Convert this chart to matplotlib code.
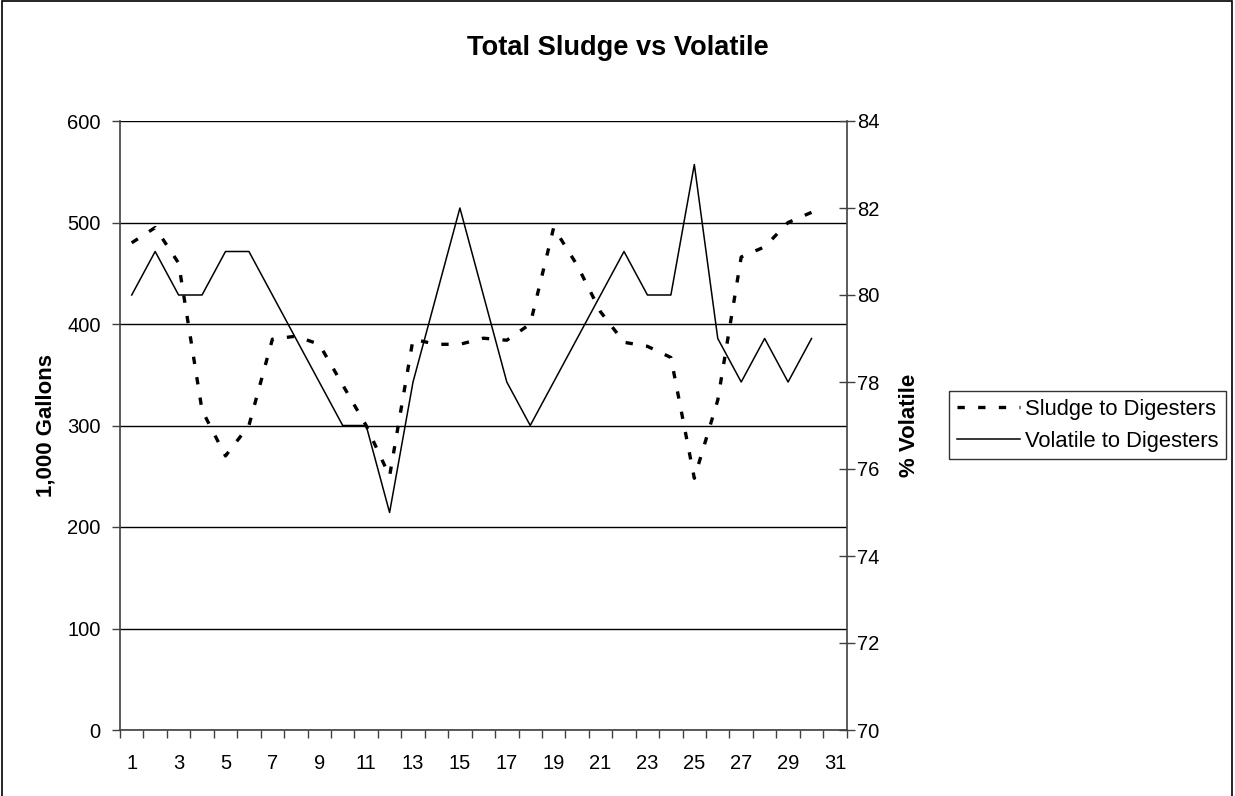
import numpy as np
import matplotlib
matplotlib.use("Agg")
import matplotlib.pyplot as plt
from matplotlib.patches import Rectangle

plt.rcParams['font.family'] = ['Liberation Sans', 'DejaVu Sans']

# daily values
days = list(range(1, 31))
sludge = [480, 495, 460, 315, 270, 300, 385, 388, 380, 340,
          300, 250, 385, 380, 380, 386, 384, 400, 495, 458,
          412, 382, 378, 367, 248, 325, 466, 476, 500, 510]
volatile = [80, 81, 80, 80, 81, 81, 80, 79, 78, 77,
            77, 75, 78, 80, 82, 80, 78, 77, 78, 79,
            80, 81, 80, 80, 83, 79, 78, 79, 78, 79]
x_labels = [str(d) for d in range(1, 32, 2)]
left_ticks = [0, 100, 200, 300, 400, 500, 600]
right_ticks = [70, 72, 74, 76, 78, 80, 82, 84]

W, H = 1235, 796
fig = plt.figure(figsize=(W / 100, H / 100), dpi=100)
ax = fig.add_axes([120 / W, 1 - 730 / H, (846.7 - 120) / W, (730 - 121) / H])
ax2 = ax.twinx()
pw = 846.7 - 120

# left axis: sludge
ax.set_xlim(0.5, 31.5)
ax.set_ylim(0, 600)
ax.set_yticks(left_ticks)
ax.yaxis.grid(True, color='black', linewidth=1.0)
ax.set_axisbelow(True)
sl, = ax.plot(days, sludge, color='black', linewidth=2.4,
              linestyle=(0, (2.2, 4.0)), dash_capstyle='butt',
              label='Sludge to Digesters', zorder=3)

# right axis: volatile
ax2.set_ylim(70, 84)
ax2.set_yticks(right_ticks)
vl, = ax2.plot(days, volatile, color='black', linewidth=1.1,
               label='Volatile to Digesters', zorder=3)

# x axis: boundaries as ticks, labels on odd days
ax.set_xticks(np.arange(0.5, 32, 1), minor=True)
ax.set_xticks(range(1, 32, 2))
ax.set_xticklabels(x_labels)
ax.tick_params(axis='x', which='major', length=0, pad=17, labelsize=14.5)
ax.tick_params(axis='x', which='minor', length=6, width=1, color='#404040', direction='out')
ax.tick_params(axis='y', length=6, width=1, color='#404040', direction='out', pad=8, labelsize=14.5)
ax2.tick_params(axis='y', length=11, width=1, color='#404040', direction='inout', pad=2, labelsize=14.5)

for a in (ax, ax2):
    a.spines['top'].set_visible(False)
    for s in ('left', 'right', 'bottom'):
        a.spines[s].set_color('#404040')
        a.spines[s].set_linewidth(1.2)
ax.spines['right'].set_visible(False)
ax2.spines['left'].set_visible(False)
ax2.spines['bottom'].set_visible(False)

ax.set_ylabel('1,000 Gallons', fontsize=16, fontweight='bold')
ax.yaxis.set_label_coords(-(120 - 57) / pw, 0.5)
ax2.set_ylabel('% Volatile', fontsize=16, fontweight='bold')
ax2.yaxis.set_label_coords(1 + (899 - 846.7) / pw, 0.5)

fig.text(0.5, 1 - 48 / H, 'Total Sludge vs Volatile', ha='center', va='center',
         fontsize=19.6, fontweight='bold')

leg = fig.legend(handles=[sl, vl], loc='upper left',
                 bbox_to_anchor=(949 / W, 1 - 391 / H), bbox_transform=fig.transFigure,
                 borderaxespad=0, fontsize=15.8, frameon=True, fancybox=False,
                 handlelength=2.9, handletextpad=0.2, borderpad=0.35, labelspacing=0.5)
leg.get_frame().set_edgecolor('black')
leg.get_frame().set_linewidth(1.0)

# outer chart border
fig.patches.append(Rectangle((2 / W, -0.05), (1232 - 2) / W, 1.05 - 1 / H,
                             transform=fig.transFigure, fill=False,
                             edgecolor='black', linewidth=1.2))

fig.savefig('out.png', dpi=100)
